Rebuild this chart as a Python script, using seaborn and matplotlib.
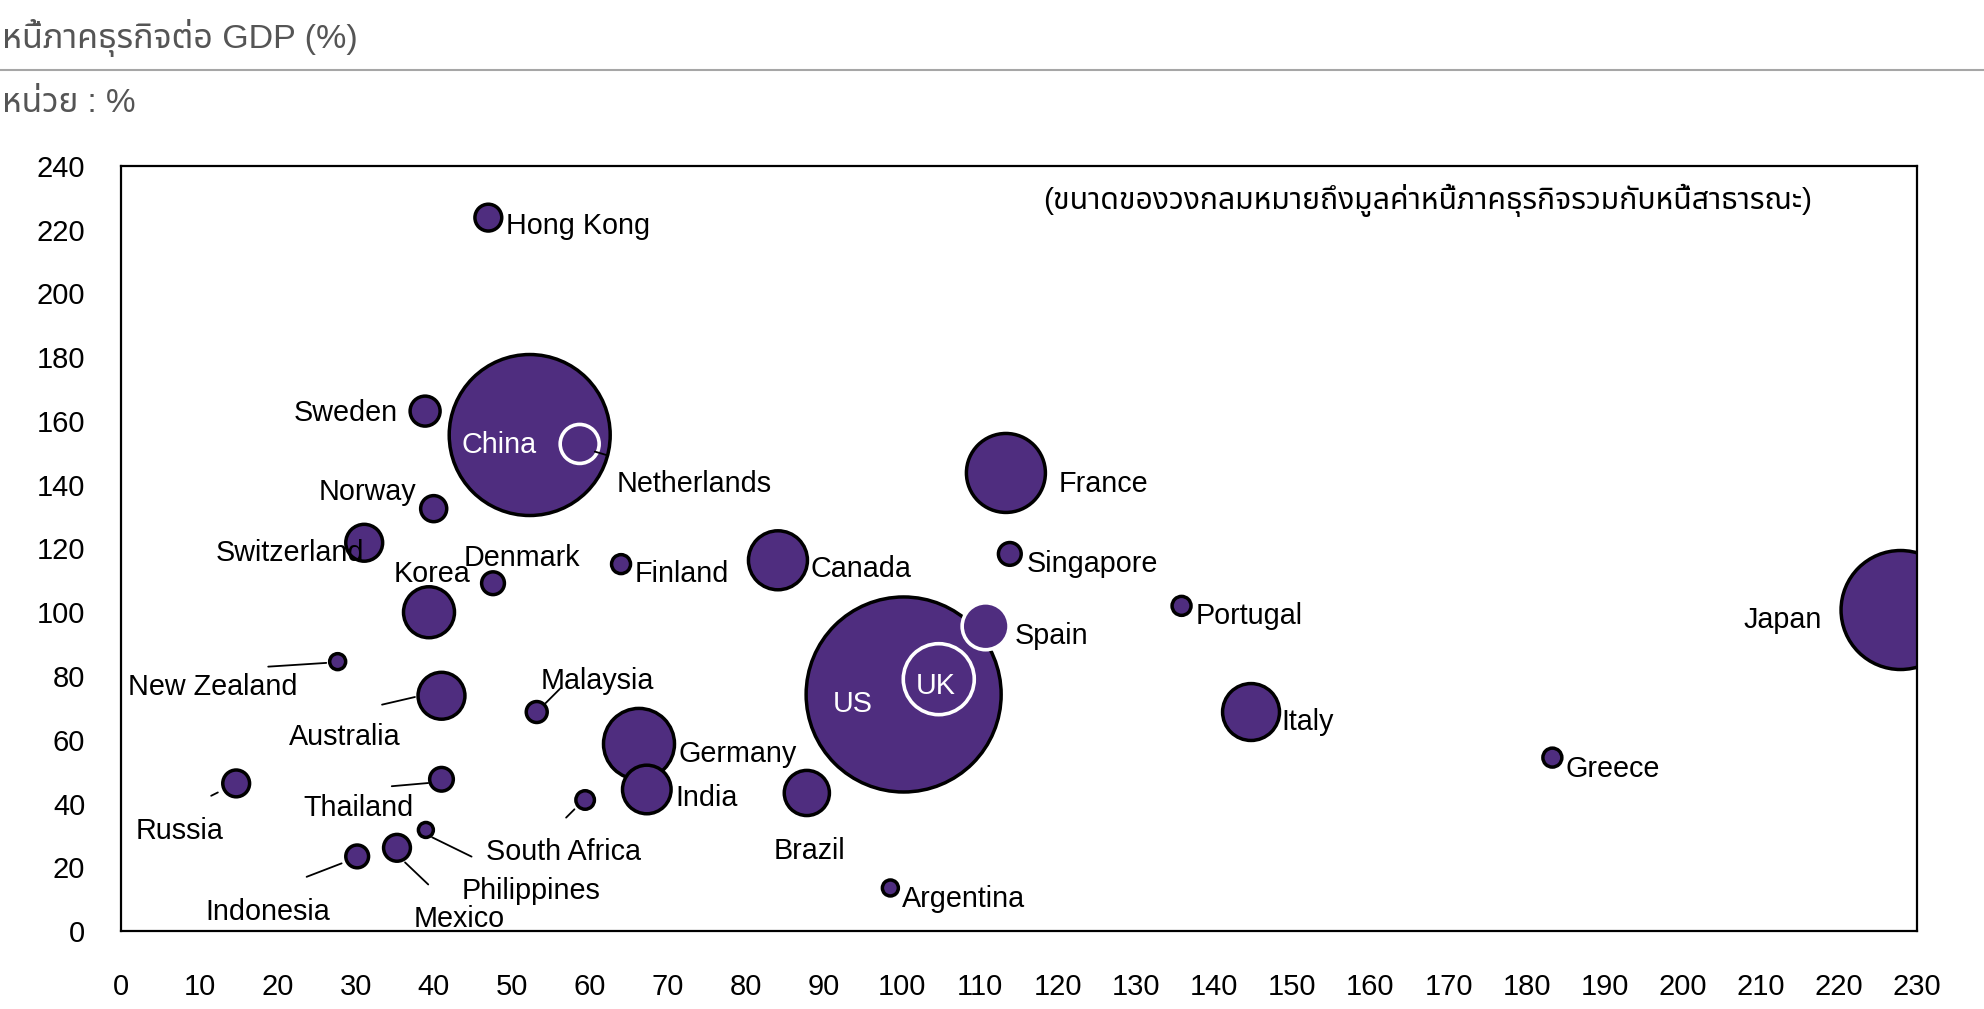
import matplotlib
matplotlib.use("Agg")
import matplotlib.pyplot as plt
import matplotlib.transforms as mtransforms
from matplotlib.lines import Line2D
import pandas as pd
import seaborn as sns

# ------------------------------------------------------------
# ข้อมูล: x = หนี้สาธารณะต่อ GDP, y = หนี้ภาคธุรกิจต่อ GDP, ขนาด = หนี้รวม
# ------------------------------------------------------------
countries = ["Hong Kong", "China", "Sweden", "Norway", "Switzerland", "Korea",
             "Denmark", "Finland", "Canada", "France", "Singapore", "Portugal",
             "Japan", "US", "Italy", "Greece", "New Zealand", "Malaysia",
             "Australia", "Germany", "India", "Thailand", "Russia", "South Africa",
             "Philippines", "Indonesia", "Mexico", "Brazil", "Argentina",
             "Netherlands", "UK", "Spain"]
public_debt = [47.0, 52.3, 38.9, 40.0, 31.1, 39.4,
               47.6, 64.0, 84.1, 113.3, 113.8, 135.8,
               227.9, 100.2, 144.7, 183.3, 27.7, 53.2,
               41.0, 66.3, 67.3, 41.0, 14.7, 39.0,
               35.3, 30.2, 59.4, 87.8, 98.5,
               58.7, 104.7, 110.7]
corp_debt = [223.8, 155.6, 163.1, 132.5, 121.8, 100.0,
             109.1, 115.1, 116.3, 143.7, 118.3, 102.0,
             100.7, 74.2, 68.7, 54.4, 84.5, 68.7,
             73.8, 58.7, 44.4, 47.6, 46.3, 31.7,
             26.1, 23.4, 41.1, 43.3, 13.5,
             152.8, 79.0, 95.6]
total_debt = [1.8, 64.8, 2.25, 1.7, 3.4, 6.5,
              1.3, 0.9, 8.7, 15.6, 1.3, 0.9,
              35.4, 95.1, 8.1, 0.9, 0.64, 1.1,
              5.5, 12.6, 5.9, 1.4, 1.8, 0.56,
              1.8, 1.3, 0.86, 5.1, 0.64,
              3.8, 12.6, 5.5]
ring_countries = ["Netherlands", "UK", "Spain"]   # วงขอบขาว
white_text = ["China", "US", "UK"]

title = "หนี้ภาคธุรกิจต่อ GDP (%)"
unit = "หน่วย : %"
note = "(ขนาดของวงกลมหมายถึงมูลค่าหนี้ภาคธุรกิจรวมกับหนี้สาธารณะ)"

# ตำแหน่งป้ายชื่อ (offset points จากจุด, ชิดซ้าย/ขวา)
label_pos = {
    "Hong Kong": (12.8, -4.6, "left"), "Sweden": (-20, 0, "right"),
    "China": (-49, -5.5, "left"), "Netherlands": (26.4, -27.3, "left"),
    "Norway": (-12.8, 13.7, "right"), "Switzerland": (0, -5.5, "right"),
    "Korea": (-25.5, 29.2, "left"), "Denmark": (-21, 20, "left"),
    "Finland": (10, -5.5, "left"), "Canada": (23.7, -4.6, "left"),
    "France": (38.3, -6.4, "left"), "Singapore": (11.8, -5.5, "left"),
    "Portugal": (10, -5.5, "left"), "Spain": (21, -5.5, "left"),
    "Japan": (-57, -5.3, "right"), "US": (-51, -5.5, "left"),
    "UK": (-16.4, -3.6, "left"), "Italy": (21.9, -5.5, "left"),
    "Greece": (9.1, -6.4, "left"), "New Zealand": (-151, -16.4, "left"),
    "Malaysia": (2.7, 23.7, "left"), "Australia": (-110, -28.2, "left"),
    "Germany": (28.2, -5.5, "left"), "India": (20.4, -4.8, "left"),
    "Thailand": (-99.6, -19.2, "left"), "Russia": (-8.9, -32.4, "right"),
    "South Africa": (43.2, -14.4, "left"), "Philippines": (46.6, -29.2, "left"),
    "Indonesia": (-109, -38.2, "left"), "Mexico": (-123.4, -84, "left"),
    "Brazil": (-23.7, -40, "left"), "Argentina": (8.2, -6.4, "left"),
}
# เส้นโยงป้าย (จุดเริ่ม, จุดจบ เป็น points จากจุดศูนย์กลาง)
leaders = {
    "Netherlands": ((10.9, -5.5), (20, -8.2)),
    "New Zealand": ((-50, -3.6), (-8.2, -0.9)),
    "Malaysia": ((6.4, 6.4), (17.3, 17.3)),
    "Australia": ((-42.8, -6.4), (-19.1, -0.9)),
    "Thailand": ((-35.8, -5), (-9.6, -2.7)),
    "Russia": ((-18, -8.9), (-13.2, -6.5)),
    "South Africa": ((4.5, -5.3), (32.9, -19.2)),
    "Philippines": ((5.8, -10.5), (22.5, -26.4)),
    "Indonesia": ((-11.2, -5), (-36.4, -14.7)),
    "Mexico": ((-7.7, -6.7), (-13.7, -12.7)),
}

PURPLE = "#4F2D7F"
GREY = "#555555"
sns.set_theme(style="white")
plt.rcParams['font.family'] = ['Liberation Sans', 'Noto Sans Thai', 'Noto Sans Thai Looped',
                               'Loma', 'Garuda', 'Waree', 'Tlwg Typo', 'Norasi', 'Kinnari',
                               'Noto Sans', 'DejaVu Sans']

df = pd.DataFrame({"country": countries, "public": public_debt,
                   "corp": corp_debt, "total": total_debt})
df["ring"] = df["country"].isin(ring_countries)

fig = plt.figure(figsize=(19.84, 10.09), dpi=100)
ax = fig.add_axes([0.0612, 0.0773, 0.905, 0.7582])

size_kw = dict(size="total", sizes=(0, 20736), size_norm=(0, 100), legend=False, ax=ax)
sns.scatterplot(data=df[~df["ring"]], x="public", y="corp", color=PURPLE,
                edgecolor="black", linewidth=2.5, **size_kw)
sns.scatterplot(data=df[df["ring"]], x="public", y="corp", color=PURPLE,
                edgecolor="white", linewidth=2.6, **size_kw)

ax.set_xlim(0, 230)
ax.set_ylim(0, 240)
ax.set_xticks(range(0, 231, 10))
ax.set_yticks(range(0, 241, 20))
ax.set_xlabel("")
ax.set_ylabel("")
ax.tick_params(axis="both", direction="out", length=9, width=1.5,
               labelsize=21, colors="black")
ax.tick_params(axis="x", pad=21)
ax.tick_params(axis="y", pad=17)
for sp in ax.spines.values():
    sp.set_color("black")
    sp.set_linewidth(1.6)

CAP = 7.4  # ครึ่งความสูงตัวพิมพ์ใหญ่ (pt) สำหรับจัดกึ่งกลาง
for _, r in df.iterrows():
    dx, dy, ha = label_pos[r["country"]]
    ax.annotate(r["country"], xy=(r["public"], r["corp"]), xytext=(dx, dy - CAP),
                textcoords="offset points", ha=ha, va="baseline", fontsize=20.7,
                color="white" if r["country"] in white_text else "black")

for name, (p0, p1) in leaders.items():
    r = df[df["country"] == name].iloc[0]
    trans = (mtransforms.Affine2D().scale(1 / 72) + fig.dpi_scale_trans
             + mtransforms.ScaledTranslation(r["public"], r["corp"], ax.transData))
    ax.plot([p0[0], p1[0]], [p0[1], p1[1]], transform=trans, color="black", lw=1.3)

ax.set_xlim(0, 230)
ax.set_ylim(0, 240)

ax.text(0.7276, 0.955, note, transform=ax.transAxes, ha="center", va="center",
        fontsize=21.7, color="black")

fig.text(0.001, 1 - 38 / 1009, title, ha="left", va="center", fontsize=24.5, color=GREY)
fig.add_artist(Line2D([0, 1], [1 - 70 / 1009] * 2, transform=fig.transFigure,
                      color="#a6a6a6", lw=1.5))
fig.text(0.001, 1 - 104 / 1009, unit, ha="left", va="center", fontsize=24, color=GREY)

fig.savefig("out.png", dpi=100)
